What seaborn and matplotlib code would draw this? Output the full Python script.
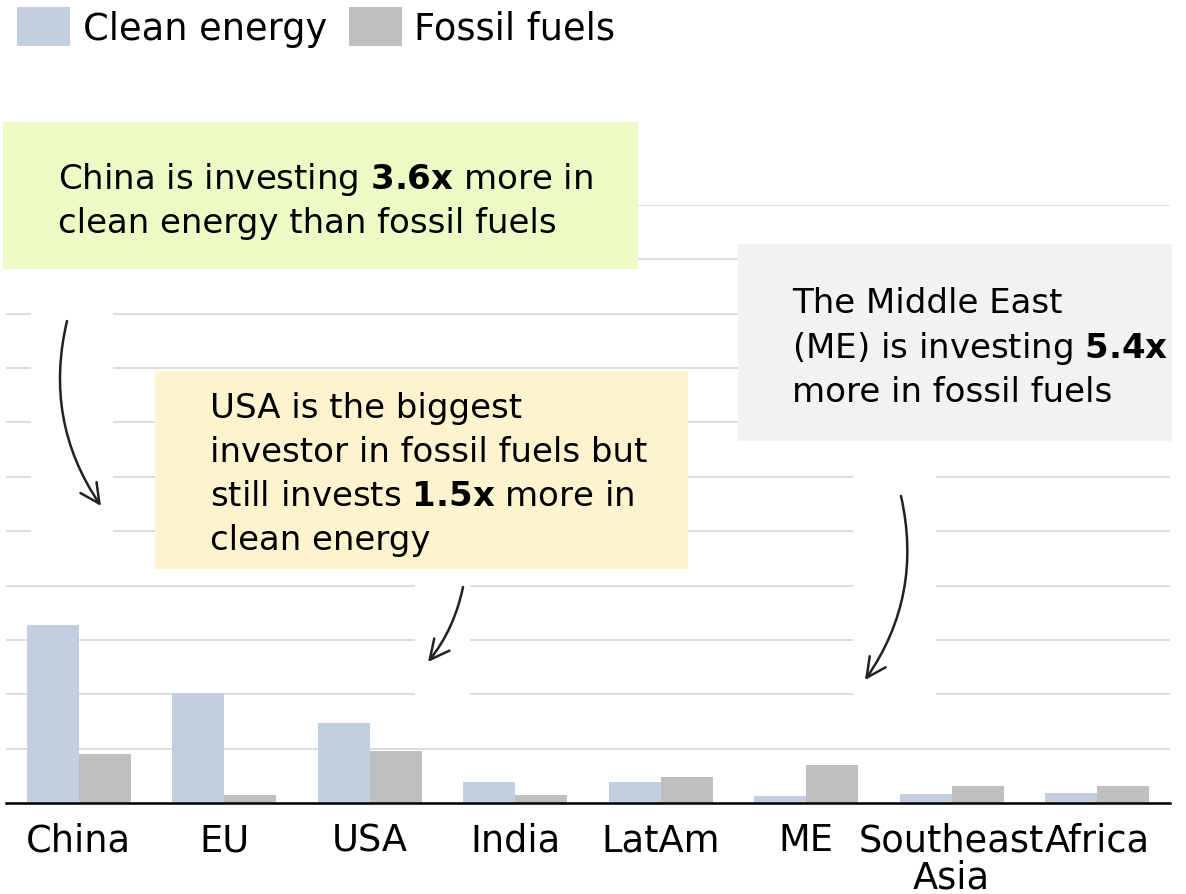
import pandas as pd
import numpy as np
import matplotlib.pyplot as plt
import seaborn as sns
from matplotlib.patches import Rectangle, FancyArrowPatch

# data (investment, $bn)
regions = ["China", "EU", "USA", "India", "LatAm", "ME", "Southeast\nAsia", "Africa"]
clean = [654, 404, 294, 78, 78, 26, 34, 38]
fossil = [180, 30, 192, 30, 96, 140, 62, 62]
series = ["Clean energy", "Fossil fuels"]

df = pd.DataFrame({
    "region": regions * 2,
    "type": [series[0]] * len(regions) + [series[1]] * len(regions),
    "value": clean + fossil,
})

# style
sns.set_style("white")
plt.rcParams["font.family"] = ["DejaVu Sans"]
plt.rcParams["mathtext.fontset"] = "dejavusans"

W, H = 1186, 895
fig = plt.figure(figsize=(W / 100, H / 100), dpi=100)

def fx(x):
    return x / W

def fy(y):
    return 1 - y / H

ax = fig.add_axes([fx(6), fy(804), (1170 - 6) / W, (804 - 206) / H])

sns.barplot(data=df, x="region", y="value", hue="type", ax=ax,
            palette=["#c3cee1", "#bfbfbf"], width=0.715, gap=0,
            saturation=1, linewidth=0)

ax.set_xlim(-0.5, len(regions) - 0.5)
ax.set_ylim(0, 2200)
ax.set_yticks(np.arange(0, 2201, 200))
ax.set_yticklabels([])
ax.set_xlabel("")
ax.set_ylabel("")
ax.set_axisbelow(True)
ax.grid(axis="y", color="#d9d9d9", linewidth=1.3)
ax.grid(axis="x", visible=False)
for s in ["top", "left", "right"]:
    ax.spines[s].set_visible(False)
ax.spines["bottom"].set_color("black")
ax.spines["bottom"].set_linewidth(1.8)
ax.tick_params(axis="x", length=0, pad=13, labelsize=26.5, colors="black")
ax.tick_params(axis="y", length=0)
for lab in ax.get_xticklabels():
    lab.set_linespacing(1.0)

# legend at top left
leg = ax.legend(loc="upper left", bbox_to_anchor=(fx(17), fy(8)),
                bbox_transform=fig.transFigure, ncol=2, frameon=False,
                fontsize=26.5, handlelength=1.45, handleheight=1.26,
                handletextpad=0.33, columnspacing=0.6, borderpad=0,
                borderaxespad=0)
for t in leg.get_texts():
    t.set_color("black")

# white gaps in the gridlines behind the hand-drawn arrows
for x0, y0, x1, y1 in [(31, 300, 113, 545), (415, 575, 470, 705), (853, 470, 936, 705)]:
    fig.add_artist(Rectangle((fx(x0), fy(y1)), (x1 - x0) / W, (y1 - y0) / H,
                             transform=fig.transFigure, facecolor="white",
                             edgecolor="none", zorder=1))

# annotation boxes
boxes = [
    (3, 123, 638, 270, "#ecfbc6", 58,
     ["China is investing $\\mathbf{3.6x}$ more in",
      "clean energy than fossil fuels"], [189, 233]),
    (155, 372, 688, 570, "#fdf3cf", 210,
     ["USA is the biggest",
      "investor in fossil fuels but",
      "still invests $\\mathbf{1.5x}$ more in",
      "clean energy"], [418, 462, 506, 550]),
    (738, 245, 1172, 442, "#f2f2f2", 792,
     ["The Middle East",
      "(ME) is investing $\\mathbf{5.4x}$",
      "more in fossil fuels"], [313, 358, 402]),
]
for x0, y0, x1, y1, col, tx, lines, bases in boxes:
    fig.add_artist(Rectangle((fx(x0), fy(y1)), (x1 - x0) / W, (y1 - y0) / H,
                             transform=fig.transFigure, facecolor=col,
                             edgecolor="none", zorder=2))
    for line, b in zip(lines, bases):
        fig.text(fx(tx), fy(b), line, fontsize=24.5, color="black",
                 ha="left", va="baseline", zorder=3)

# curved arrows
arrows = [
    ((67, 322), (101, 507), 0.22),
    ((463, 588), (428, 663), -0.12),
    ((901, 497), (865, 681), -0.22),
]
for (xa, ya), (xb, yb), rad in arrows:
    fig.add_artist(FancyArrowPatch(
        (fx(xa), fy(ya)), (fx(xb), fy(yb)), transform=fig.transFigure,
        arrowstyle="->,head_length=0.7,head_width=0.35", mutation_scale=20,
        connectionstyle=f"arc3,rad={rad}", color="#222222", linewidth=1.8,
        shrinkA=0, shrinkB=0, zorder=3))

fig.savefig("out.png", dpi=100)
